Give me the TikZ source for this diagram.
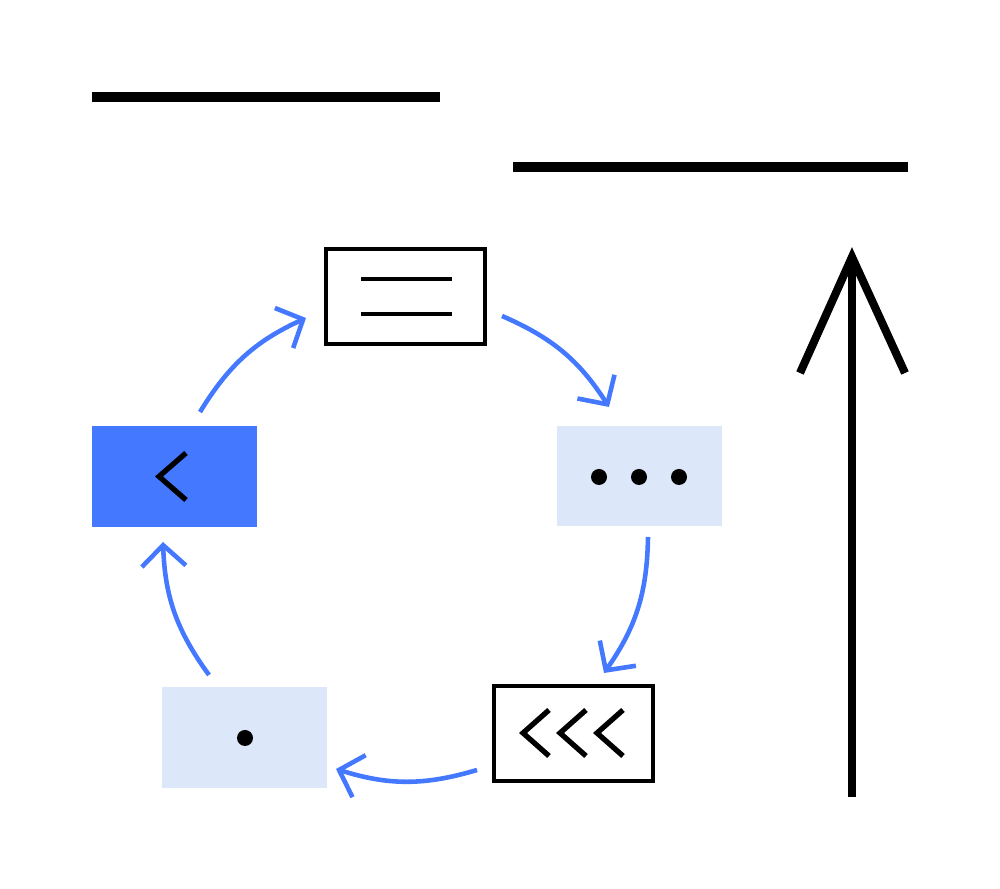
\documentclass[tikz,border=0pt]{standalone}
\usetikzlibrary{arrows.meta}
\definecolor{brandblue}{HTML}{4378FF}
\definecolor{paleblue}{HTML}{DCE7FA}
\begin{document}
\begin{tikzpicture}[x=0.01cm,y=0.01cm,
  bar/.style={line width=2.85pt},
  framebox/.style={draw=black,line width=1.15pt,fill=white,minimum width=1.59cm,minimum height=0.95cm,inner sep=0pt},
  solidbox/.style={fill=brandblue,minimum width=1.65cm,minimum height=1.01cm,inner sep=0pt},
  palebox/.style={fill=paleblue,minimum width=1.65cm,minimum height=1.0cm,inner sep=0pt},
  glyph/.style={line width=1.5pt},
  flow/.style={draw=brandblue,line width=1.3pt,-{Straight Barb[length=2.1mm,width=4.4mm]}},
  bigarrow/.style={line width=2.3pt,miter limit=20}
]
\useasboundingbox (0,0) rectangle (1000,889);

% header bars
\coordinate (b1l) at (92,792); \coordinate (b1r) at (440,792);
\coordinate (b2l) at (513,722); \coordinate (b2r) at (908,722);
\draw[bar] (b1l) -- (b1r);
\draw[bar] (b2l) -- (b2r);

% boxes
\node[framebox] (T) at (405.5,592.5) {};
\node[solidbox] (L) at (174.5,412.5) {};
\node[palebox] (R) at (639.5,413) {};
\node[palebox] (BL) at (244.5,151.5) {};
\node[framebox] (BR) at (573.5,155.5) {};

% top box lines
\draw[line width=1.15pt] (361,610) -- (452,610);
\draw[line width=1.15pt] (361,575) -- (452,575);

% left chevron
\draw[glyph] (186,436) -- (159,412.5) -- (186,389);

% dots
\fill (599,412) circle (8);
\fill (639,412) circle (8);
\fill (679,412) circle (8);
\fill (245,151) circle (8);

% triple chevrons
\foreach \t in {523,560,597}{
  \draw[glyph] (\t+26,179) -- (\t,156) -- (\t+26,133);
}

% cycle arrows
\coordinate (a1s) at (200,477); \coordinate (a1e) at (306,571);
\coordinate (a2s) at (502,573); \coordinate (a2e) at (609,482);
\coordinate (a3s) at (648,352); \coordinate (a3e) at (604,216);
\coordinate (a4s) at (477,119); \coordinate (a4e) at (336,120);
\coordinate (a5s) at (209,214); \coordinate (a5e) at (163,347);
\draw[flow] (a1s) to[bend left=17] (a1e);
\draw[flow] (a2s) to[bend left=17] (a2e);
\draw[flow] (a3s) to[bend left=17] (a3e);
\draw[flow] (a4s) to[bend left=17] (a4e);
\draw[flow] (a5s) to[bend left=17] (a5e);

% big upward arrow
\coordinate (base) at (852,92);
\coordinate (tip) at (852,632);
\coordinate (shaftend) at (852,622);
\coordinate (wl) at (800,516);
\coordinate (wr) at (905,516);
\draw[bigarrow] (base) -- (shaftend);
\draw[bigarrow] (wl) -- (tip) -- (wr);
\end{tikzpicture}
\end{document}
